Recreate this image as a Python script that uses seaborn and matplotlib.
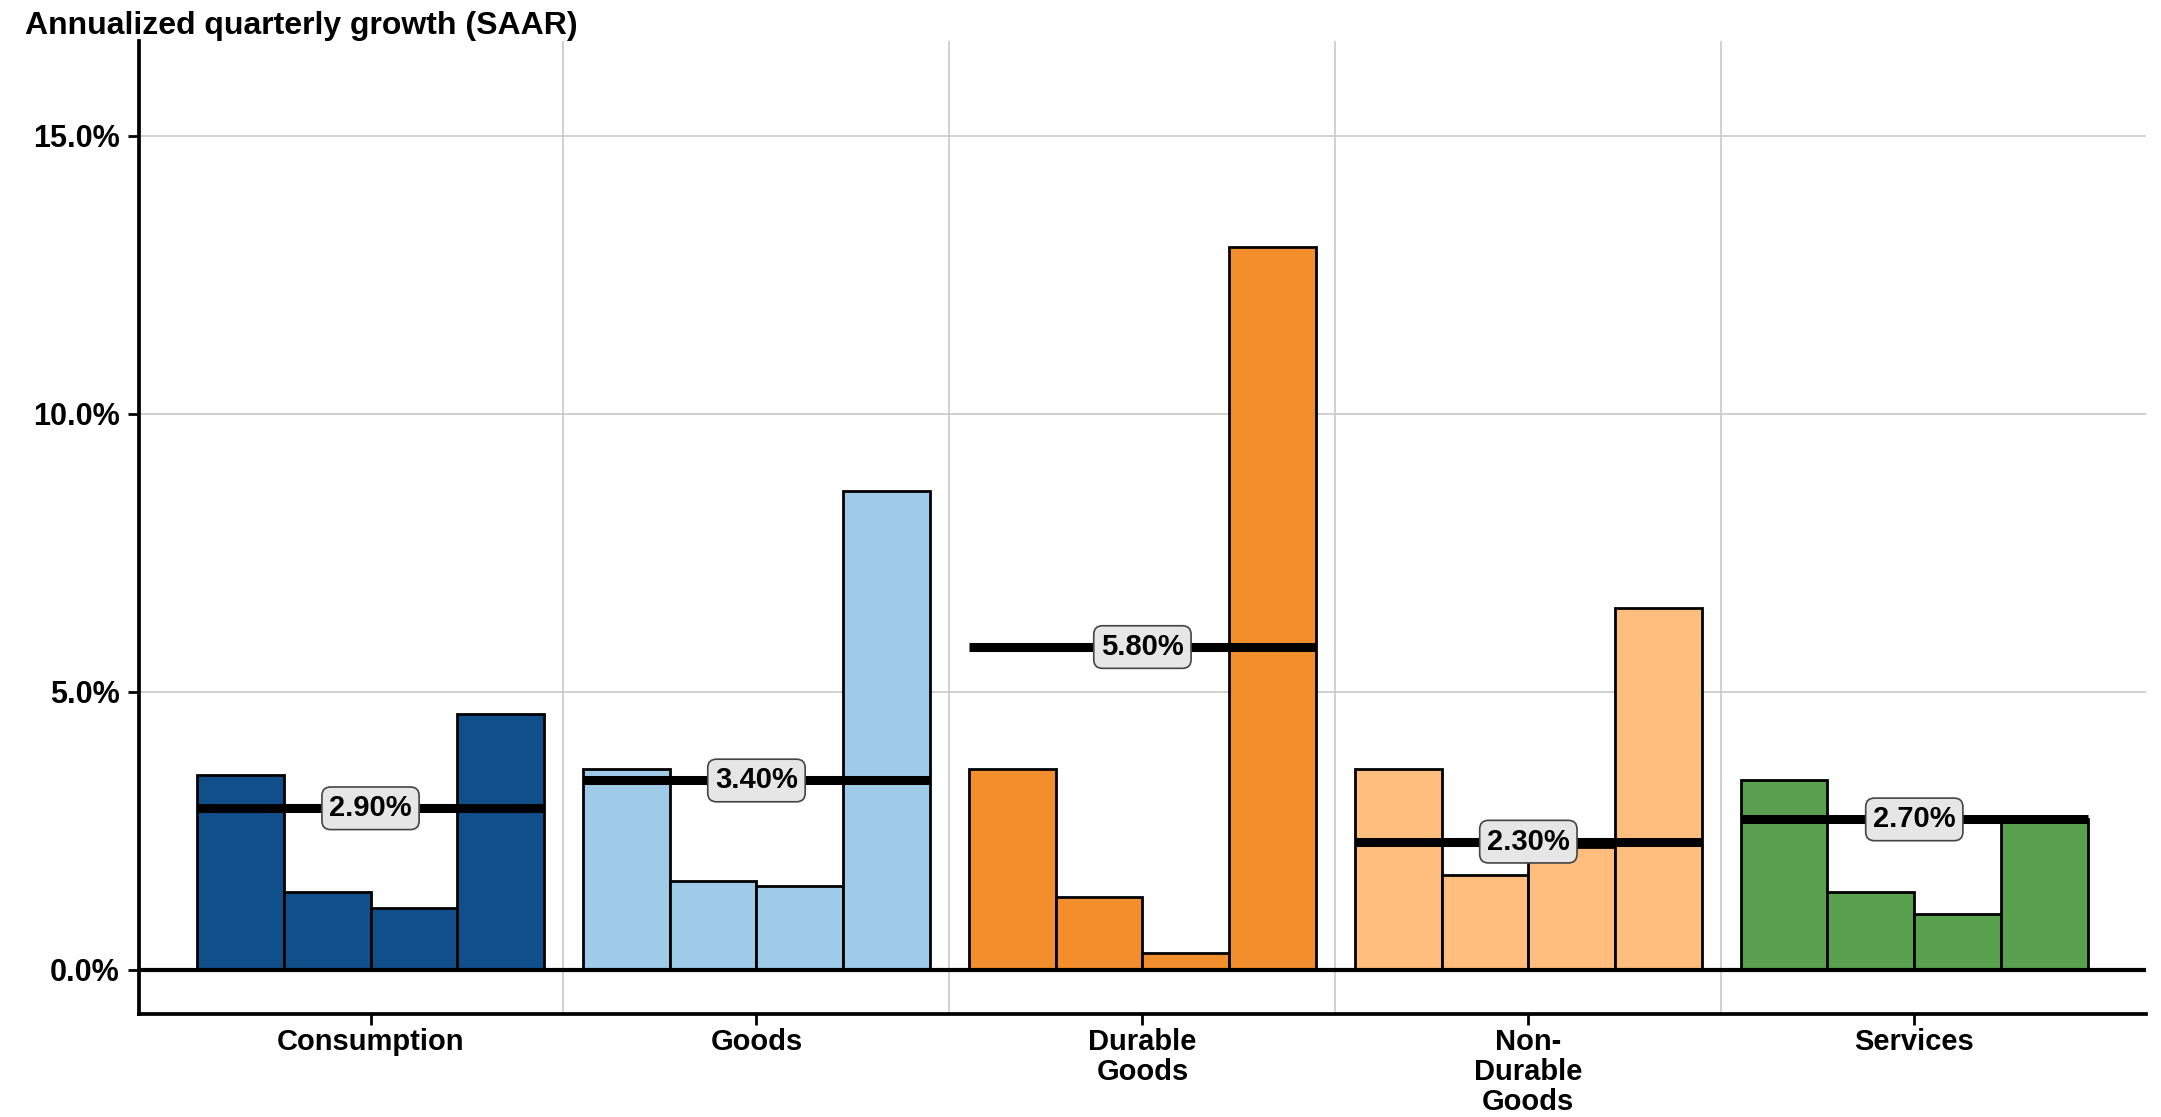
import matplotlib
matplotlib.use('Agg')

import matplotlib.pyplot as plt
import numpy as np
import pandas as pd
import seaborn as sns

sns.set_style("white")
plt.rcParams['font.family'] = ['Liberation Sans', 'DejaVu Sans']
plt.rcParams['font.weight'] = 'bold'
plt.rcParams['text.color'] = 'black'
plt.rcParams['xtick.color'] = 'black'
plt.rcParams['ytick.color'] = 'black'

# data
categories = ["Consumption", "Goods", "Durable\nGoods", "Non-\nDurable\nGoods", "Services"]
quarters = ["Q1", "Q2", "Q3", "Q4"]
growth = [
    [3.5, 1.4, 1.1, 4.6],   # Consumption
    [3.6, 1.6, 1.5, 8.6],   # Goods
    [3.6, 1.3, 0.3, 13.0],  # Durable goods
    [3.6, 1.7, 2.2, 6.5],   # Non-durable goods
    [3.4, 1.4, 1.0, 2.7],   # Services
]
averages = [2.9, 3.4, 5.8, 2.3, 2.7]
avg_labels = ["2.90%", "3.40%", "5.80%", "2.30%", "2.70%"]
colors = ["#114f8a", "#a0cbe8", "#f28e2b", "#ffbe7d", "#59a14f"]

rows = []
for cat, vals in zip(categories, growth):
    for q, v in zip(quarters, vals):
        rows.append({"category": cat, "quarter": q, "value": v})
df = pd.DataFrame(rows)

fig = plt.figure(figsize=(21.61, 11.17), dpi=100)
ax = fig.add_axes([0.0643, 0.0922, 0.9287, 0.8711])

sns.barplot(data=df, x="category", y="value", hue="quarter", order=categories,
            hue_order=quarters, width=0.9, dodge=True, edgecolor="black",
            linewidth=2, legend=False, ax=ax, zorder=2)

# colour each bar by its category group
for p in ax.patches:
    xc = p.get_x() + p.get_width() / 2
    p.set_facecolor(colors[int(round(xc))])

# average lines with labels
for i, (avg, lab) in enumerate(zip(averages, avg_labels)):
    ax.hlines(avg, i - 0.45, i + 0.45, color="black", lw=6.5, zorder=4)
    ax.text(i, avg, lab, ha="center", va="center", fontsize=21, fontweight="bold",
            color="black", zorder=5,
            bbox=dict(boxstyle="round,pad=0.25,rounding_size=0.3", fc="#e6e6e6",
                      ec="#444444", lw=1.2))

ax.axhline(0, color="black", lw=3, zorder=3)

ax.set_xlim(-0.6, 4.6)
ax.set_ylim(-0.8, 16.7)
ax.set_yticks([0, 5, 10, 15])
ax.set_yticklabels(["0.0%", "5.0%", "10.0%", "15.0%"])
ax.set_xticks(range(len(categories)))
ax.set_xticklabels(categories, linespacing=1.1)
ax.set_xticks([0.5, 1.5, 2.5, 3.5], minor=True)

ax.grid(axis="y", which="major", color="#c8c8c8", lw=1.2, zorder=0)
ax.grid(axis="x", which="minor", color="#c8c8c8", lw=1.2, zorder=0)
ax.grid(axis="x", which="major", visible=False)
ax.set_axisbelow(True)

ax.tick_params(axis="y", which="major", labelsize=22, length=8, width=2, pad=6,
               left=True, labelcolor="black")
ax.tick_params(axis="x", which="major", labelsize=21, length=8, width=2, pad=2,
               bottom=True, labelcolor="black")
ax.tick_params(axis="x", which="minor", length=0)

ax.set_xlabel("")
ax.set_ylabel("")
sns.despine(ax=ax)
for s in ["left", "bottom"]:
    ax.spines[s].set_linewidth(2.7)
    ax.spines[s].set_color("black")

fig.text(0.0115, 0.99, "Annualized quarterly growth (SAAR)", ha="left", va="top",
         fontsize=23, fontweight="bold", color="black")

fig.savefig("out.png", dpi=100)
